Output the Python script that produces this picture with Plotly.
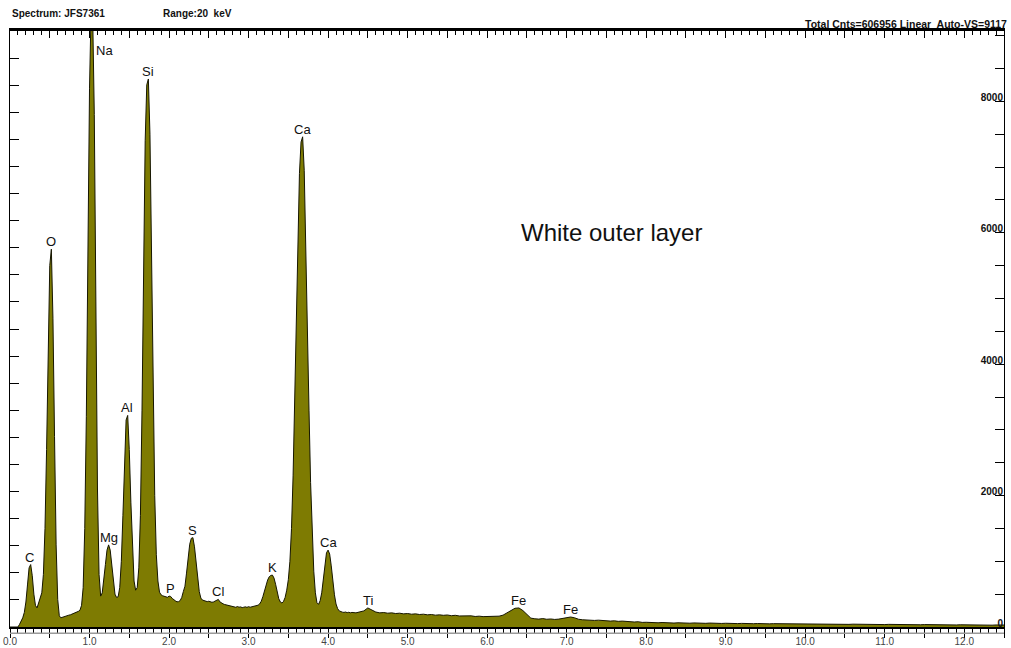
import numpy as np
import plotly.graph_objects as go

# EDS spectrum, two channel segments (keV start, keV step)
FINE_START, FINE_STEP = 0.00, 0.02
TAIL_START, TAIL_STEP = 4.30, 0.05

# counts, 0.00 - 4.28 keV every 0.02 keV
counts_fine = [
    0, 0, 0, 0, 0, 0, 40, 90, 140, 220,                          # 0.00
    380, 640, 900, 950, 780, 500, 330, 290, 380, 440,            # 0.20
    520, 800, 1500, 2700, 4300, 5500, 5750, 4700, 2900, 1250,    # 0.40
    420, 170, 140, 150, 158, 165, 172, 180, 186, 195,            # 0.60
    205, 214, 225, 238, 255, 330, 600, 1500, 3200, 5600,         # 0.80
    8200, 9400, 9300, 7800, 4800, 2100, 800, 470, 520, 700,      # 1.00
    950, 1170, 1250, 1170, 920, 680, 500, 450, 460, 600,         # 1.20
    1000, 1700, 2500, 3150, 3220, 2700, 1900, 1150, 700, 560,    # 1.40
    600, 900, 1700, 3300, 5400, 7400, 8250, 8340, 7500, 5700,    # 1.60
    3600, 2000, 1100, 700, 530, 490, 475, 465, 458, 452,         # 1.80
    470, 465, 435, 412, 398, 383, 386, 402, 450, 540,            # 2.00
    620, 820, 1060, 1260, 1350, 1360, 1220, 980, 720, 540,       # 2.20
    440, 410, 402, 396, 386, 392, 380, 376, 382, 392,            # 2.40
    412, 420, 382, 362, 352, 342, 336, 330, 321, 316,            # 2.60
    310, 305, 300, 312, 301, 306, 295, 301, 307, 299,            # 2.80
    310, 301, 306, 311, 316, 322, 332, 352, 392, 462,            # 3.00
    550, 640, 715, 765, 785, 790, 745, 650, 535, 430,            # 3.20
    380, 365, 390, 450, 560, 720, 1000, 1500, 2300, 3400,        # 3.40
    4700, 5900, 6900, 7380, 7460, 6950, 5900, 4600, 3300, 2200,  # 3.60
    1400, 850, 520, 370, 345, 400, 520, 720, 950, 1130,          # 3.80
    1170, 1110, 930, 700, 490, 350, 280, 245, 232, 226,          # 4.00
    222, 228, 218, 224, 216,                                     # 4.20
]

# counts, 4.30 - 12.50 keV every 0.05 keV
counts_tail = [
    222, 215, 225, 245, 290, 262, 228, 215, 220, 210,   # 4.30
    215, 205, 210, 200, 205, 195, 200, 190, 195, 185,   # 4.80
    190, 180, 185, 178, 183, 172, 178, 168, 172, 165,   # 5.30
    170, 160, 165, 158, 162, 155, 160, 165, 180, 210,   # 5.80
    250, 285, 290, 250, 185, 135, 125, 120, 128, 118,   # 6.30
    122, 115, 120, 130, 145, 152, 140, 118, 110, 105,   # 6.80
    108, 100, 104, 96, 98, 90, 94, 86, 90, 82,          # 7.30
    85, 76, 80, 70, 72, 66, 70, 64, 68, 62,             # 7.80
    66, 60, 64, 59, 63, 58, 62, 57, 61, 56,             # 8.30
    60, 55, 59, 54, 57, 53, 56, 52, 55, 51,             # 8.80
    54, 50, 53, 49, 52, 48, 51, 50, 47, 50,             # 9.30
    46, 49, 45, 48, 46, 44, 47, 43, 46, 44,             # 9.80
    42, 45, 41, 44, 42, 40, 43, 41, 39, 42,             # 10.30
    40, 38, 41, 39, 37, 40, 38, 36, 39, 37,             # 10.80
    35, 38, 36, 34, 37, 35, 33, 36, 34, 32,             # 11.30
    35, 33, 31, 34, 32, 30, 33, 31, 29, 32,             # 11.80
    30, 28, 31, 29, 30,                                 # 12.30
]

# element markers: (symbol, line energy in keV)
peak_symbols = ["C", "O", "Mg", "Al", "Si", "P", "S", "Cl", "K",
                "Ca", "Ca", "Ti", "Fe", "Fe"]
peak_energies = [0.25, 0.52, 1.25, 1.47, 1.74, 2.02, 2.30, 2.62, 3.30,
                 3.68, 4.00, 4.50, 6.40, 7.05]

# Na line runs off the top of the scale; its marker sits beside the peak
na_label_energy, na_label_counts = 1.04, 8780

x_tick_vals = [i * 0.5 for i in range(26)]
x_tick_text = [f"{v:.1f}" if i % 2 == 0 else "" for i, v in enumerate(x_tick_vals)]
y_tick_vals = [0, 2000, 4000, 6000, 8000]
y_tick_text = ["0", "2000", "4000", "6000", "8000"]

X_RANGE = [0, 12.5]
Y_RANGE = [0, 9070]

energy = np.concatenate([
    FINE_START + FINE_STEP * np.arange(len(counts_fine)),
    TAIL_START + TAIL_STEP * np.arange(len(counts_tail)),
])
counts = np.array(counts_fine + counts_tail, dtype=float)

FONT = "Liberation Sans, Arial, sans-serif"
FILL = "#7e7b02"

fig = go.Figure()
fig.add_trace(go.Scatter(
    x=energy, y=counts, mode="lines", fill="tozeroy",
    fillcolor=FILL, line=dict(color="#161600", width=1),
    hoverinfo="skip", showlegend=False,
))
# carrier trace for the top / left frame axes
fig.add_trace(go.Scatter(x=[None], y=[None], xaxis="x2", yaxis="y2",
                         showlegend=False, hoverinfo="skip"))

annotations = []
for sym, e in zip(peak_symbols, peak_energies):
    window = (energy >= e - 0.03) & (energy <= e + 0.03)
    top = counts[window].max()
    annotations.append(dict(
        x=e, y=top, xref="x", yref="y", text=sym, showarrow=False,
        xanchor="center", yanchor="bottom", yshift=-1, borderpad=0,
        font=dict(family=FONT, size=13, color="#111"),
    ))
annotations.append(dict(
    x=na_label_energy, y=na_label_counts, xref="x", yref="y", text="Na",
    showarrow=False, xanchor="left", yanchor="middle", xshift=1,
    font=dict(family=FONT, size=13, color="#111"),
))
annotations.append(dict(
    x=7.57, y=6000, xref="x", yref="y", text="White outer layer",
    showarrow=False, xanchor="center", yanchor="middle",
    font=dict(family=FONT, size=24, color="#111"),
))
header_font = dict(family=FONT, size=10, color="#111", weight="bold")
annotations += [
    dict(x=0.0, y=1.03, xref="paper", yref="paper", text="Spectrum: JFS7361",
         showarrow=False, xanchor="left", yanchor="middle", font=header_font),
    dict(x=0.152, y=1.03, xref="paper", yref="paper", text="Range:20\u00a0 keV",
         showarrow=False, xanchor="left", yanchor="middle", font=header_font),
    dict(x=1.004, y=1.0, xref="paper", yref="paper",
         text="Total Cnts=606956 Linear\u00a0 Auto-VS=9117",
         showarrow=False, xanchor="right", yanchor="bottom", yshift=0,
         borderpad=0, font=dict(family=FONT, size=10.5, color="#111", weight="bold")),
]

fig.update_layout(
    width=1011, height=648,
    margin=dict(l=10, r=7, t=31, b=21, autoexpand=False),
    paper_bgcolor="white", plot_bgcolor="white",
    font=dict(family=FONT, color="#111"),
    showlegend=False,
    xaxis=dict(
        range=X_RANGE, showgrid=False, zeroline=False, automargin=False,
        showline=True, linecolor="black", linewidth=2,
        ticks="outside", ticklen=9, tickwidth=1, tickcolor="black",
        tickmode="array", tickvals=x_tick_vals, ticktext=x_tick_text,
        tickfont=dict(family=FONT, size=10, color="#444"),
        ticklabelstandoff=-5,
        minor=dict(tickmode="linear", tick0=0, dtick=0.1, ticks="outside",
                   ticklen=5, tickcolor="black", tickwidth=1, showgrid=False),
    ),
    xaxis2=dict(
        range=X_RANGE, overlaying="x", side="top", anchor="y", automargin=False,
        showgrid=False, zeroline=False, showticklabels=False,
        showline=True, linecolor="black", linewidth=3,
        ticks="inside", ticklen=7, tickwidth=1, tickcolor="black",
        tickmode="array", tickvals=x_tick_vals,
        minor=dict(tickmode="linear", tick0=0, dtick=0.1, ticks="inside",
                   ticklen=4, tickcolor="black", tickwidth=1, showgrid=False),
    ),
    yaxis=dict(
        range=Y_RANGE, side="right", showgrid=False, zeroline=False,
        automargin=False,
        showline=True, linecolor="black", linewidth=1,
        ticks="inside", ticklen=9, tickwidth=1, tickcolor="black",
        tickmode="array", tickvals=y_tick_vals, ticktext=y_tick_text,
        ticklabelposition="inside", ticklabeloverflow="allow",
        ticklabelshift=-4, ticklabelstandoff=-9,
        tickfont=dict(family=FONT, size=10, color="#111", weight="bold"),
        minor=dict(tickmode="linear", tick0=0, dtick=500, ticks="inside",
                   ticklen=9, tickcolor="black", tickwidth=1, showgrid=False),
    ),
    yaxis2=dict(
        range=[0, 22], overlaying="y", side="left", anchor="x", automargin=False,
        showgrid=False, zeroline=False, showticklabels=False,
        showline=True, linecolor="black", linewidth=1,
        ticks="inside", ticklen=9, tickwidth=1, tickcolor="black",
        tickmode="linear", tick0=0, dtick=1,
    ),
    annotations=annotations,
    shapes=[dict(type="line", xref="paper", yref="paper",
                 x0=0, x1=1, y0=-0.0105, y1=-0.0105,
                 line=dict(color="#9a9a9a", width=1.5))],
)

fig.write_html("out.html")
